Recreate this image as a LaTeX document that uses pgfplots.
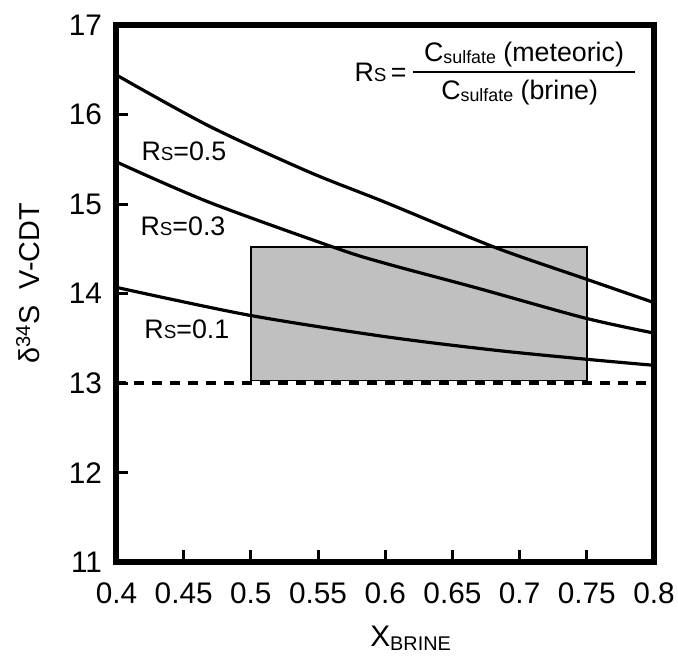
\documentclass[border=0pt]{standalone}
\usepackage{fontspec}
\setmainfont{Liberation Sans}
\usepackage{pgfplots}
\pgfplotsset{compat=1.18}
\newcommand{\smallS}{{\fontsize{19}{19}\selectfont S}}
\newcommand{\sulf}{\raisebox{-2bp}{\fontsize{18}{18}\selectfont sulfate}}
\begin{document}
\begin{tikzpicture}
\begin{axis}[
  scale only axis, width=540bp, height=540bp,
  xmin=0.4, xmax=0.8, ymin=11, ymax=17,
  xtick={0.4,0.45,0.5,0.55,0.6,0.65,0.7,0.75,0.8},
  xticklabels={0.4,0.45,0.5,0.55,0.6,0.65,0.7,0.75,0.8},
  ytick={11,12,13,14,15,16,17},
  xtick pos=bottom, ytick pos=left, tick align=inside,
  major tick length=12bp,
  every tick/.style={black, line width=3bp},
  axis line style={line width=6bp},
  /pgf/number format/assume math mode=true,
  ticklabel style={font=\fontsize{30}{30}\selectfont},
  xticklabel style={yshift=-17bp},
  yticklabel style={xshift=-11bp},
  clip mode=individual,
]
\coordinate (sw) at (rel axis cs:0,0);
\coordinate (ne) at (rel axis cs:1,1);
% shaded box
\addplot[fill={rgb,255:red,192;green,192;blue,192}, draw=black, line width=1.6bp] coordinates {(0.5,13.03) (0.75,13.03) (0.75,14.52) (0.5,14.52)} -- cycle;
% dashed line
\addplot[black, line width=4bp, dash pattern=on 10bp off 8bp] coordinates {(0.4,13) (0.8,13)};
% Rs = 0.5
\addplot[black, line width=3.2bp, smooth] coordinates {
(0.4,16.44) (0.469,15.87) (0.543,15.36) (0.6,15.02) (0.681,14.52) (0.748,14.17) (0.8,13.90)};
% Rs = 0.3
\addplot[black, line width=3.2bp, smooth] coordinates {
(0.4,15.47) (0.469,15.02) (0.565,14.50) (0.602,14.33) (0.669,14.06) (0.748,13.73) (0.8,13.56)};
% Rs = 0.1
\addplot[black, line width=3.2bp, smooth] coordinates {
(0.4,14.07) (0.4985,13.76) (0.6,13.52) (0.681,13.37) (0.748,13.27) (0.8,13.20)};
\node[anchor=west, inner sep=0pt, font=\fontsize{27}{27}\selectfont] at (axis cs:0.4185,15.59) {R\smallS=0.5};
\node[anchor=west, inner sep=0pt, font=\fontsize{27}{27}\selectfont] at (axis cs:0.4178,14.756) {R\smallS=0.3};
\node[anchor=west, inner sep=0pt, font=\fontsize{27}{27}\selectfont] at (axis cs:0.4207,13.60) {R\smallS=0.1};
% formula
\node[anchor=base west, inner sep=0pt, font=\fontsize{27}{27}\selectfont] at (axis cs:0.577,16.367) {R\smallS\,=};
\node[anchor=base, inner sep=0pt, font=\fontsize{27}{27}\selectfont] at (axis cs:0.7033,16.589) {C\sulf\ (meteoric)};
\node[anchor=base, inner sep=0pt, font=\fontsize{27}{27}\selectfont] at (axis cs:0.700,16.167) {C\sulf\ (brine)};
\draw[line width=2bp] (axis cs:0.6207,16.478) -- (axis cs:0.7859,16.478);
% axis labels
\node[rotate=90, anchor=center, inner sep=0pt, font=\fontsize{29}{29}\selectfont] at (axis description cs:-0.165,0.519) {δ\textsuperscript{34}S\ \ V-CDT};
\node[anchor=base west, inner sep=0pt, font=\fontsize{30}{30}\selectfont] at (axis description cs:0.472,-0.157) {X\raisebox{-4bp}{\fontsize{20}{20}\selectfont BRINE}};
\end{axis}
\path ([xshift=-117bp,yshift=-95bp]sw) rectangle ([xshift=21bp,yshift=25bp]ne);
\end{tikzpicture}
\end{document}
